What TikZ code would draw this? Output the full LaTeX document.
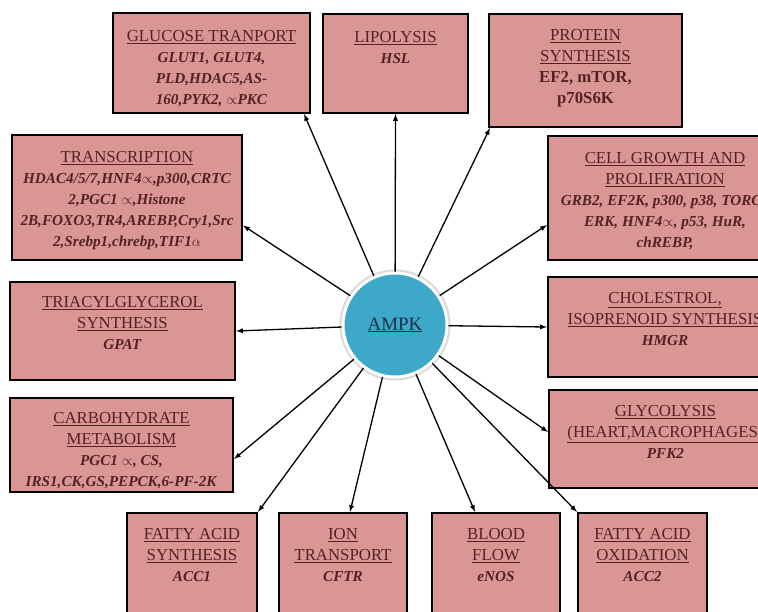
\documentclass[tikz,border=0pt]{standalone}
\usepackage{fontspec}
\setmainfont{Liberation Serif}
\usetikzlibrary{positioning}

\definecolor{boxpink}{RGB}{217,150,149}
\definecolor{ampkblue}{RGB}{62,168,200}
\definecolor{txtred}{RGB}{84,34,36}
\definecolor{ampktxt}{RGB}{28,48,72}

\newcommand{\gen}[1]{{\fontsize{15.2}{21}\selectfont\textbf{\textit{#1}}}}
\newcommand{\ttl}[1]{\underline{#1}}

\begin{document}
\begin{tikzpicture}[x=1pt, y=-1pt, box/.style={draw=black, line width=2.2pt, fill=boxpink, inner sep=0pt}, txt/.style={align=center, text=txtred, font=\fontsize{16.8}{21}\selectfont, inner sep=0pt}, hub/.style={circle, fill=ampkblue, draw=white, line width=3pt, minimum size=104pt, preaction={draw=black!15, line width=7pt}}, n/.style={-latex, line width=1.3pt}]
                \useasboundingbox (0,0) rectangle (758,611);
                \clip (0,0) rectangle (758,611);
                % boxes
                \node[box, minimum width=197pt, minimum height=100pt] (glucose) at (211.5,63) {};
                \node[box, minimum width=145pt, minimum height=99pt] (lipo) at (395.5,63.5) {};
                \node[box, minimum width=193pt, minimum height=113pt] (protein) at (585.5,70.5) {};
                \node[box, minimum width=230pt, minimum height=125pt] (transcr) at (127,197.5) {};
                \node[box, minimum width=234pt, minimum height=124pt] (cellgrowth) at (665,198) {};
                \node[box, minimum width=225pt, minimum height=98pt] (triacyl) at (122.5,331) {};
                \node[box, minimum width=234pt, minimum height=100pt] (cholest) at (665,327) {};
                \node[box, minimum width=223pt, minimum height=94pt] (carbo) at (121.5,445) {};
                \node[box, minimum width=233pt, minimum height=98pt] (glyco) at (665.5,439) {};
                \node[box, minimum width=130pt, minimum height=127pt] (fasynth) at (192,576.5) {};
                \node[box, minimum width=128pt, minimum height=127pt] (ion) at (343,576.5) {};
                \node[box, minimum width=128pt, minimum height=127pt] (blood) at (496,576.5) {};
                \node[box, minimum width=129pt, minimum height=127pt] (faox) at (642.5,576.5) {};
                % texts
                \node[txt, below=18pt of glucose.north] (glucosetxt) {\ttl{GLUCOSE TRANPORT}\\ \gen{GLUT1, GLUT4,}\\ \gen{PLD,HDAC5,AS-}\\ \gen{160,PYK2, $\propto$PKC}};
                \node[txt, below=18pt of lipo.north] (lipotxt) {\ttl{LIPOLYSIS}\\ \gen{HSL}};
                \node[txt, below=16pt of protein.north] (proteintxt) {\ttl{PROTEIN}\\ \ttl{SYNTHESIS}\\ \textbf{EF2, mTOR,}\\ \textbf{p70S6K}};
                \node[txt, below=17pt of transcr.north] (transcrtxt) {\ttl{TRANSCRIPTION}\\ \gen{HDAC4/5/7,HNF4$\propto$,p300,CRTC}\\ \gen{2,PGC1 $\propto$,Histone}\\ \gen{2B,FOXO3,TR4,AREBP,Cry1,Src}\\ \gen{2,Srebp1,chrebp,TIF1$\alpha$}};
                \node[txt, below=17pt of cellgrowth.north] (cellgrowthtxt) {\ttl{CELL GROWTH AND}\\ \ttl{PROLIFRATION}\\ \gen{GRB2, EF2K, p300, p38, TORC2}\\ \gen{ERK, HNF4$\propto$, p53, HuR,}\\ \gen{chREBP,}};
                \node[txt, below=15pt of triacyl.north] (triacyltxt) {\ttl{TRIACYLGLYCEROL}\\ \ttl{SYNTHESIS}\\ \gen{GPAT}};
                \node[txt, below=16pt of cholest.north] (cholesttxt) {\ttl{CHOLESTROL,}\\ \ttl{ISOPRENOID SYNTHESIS}\\ \gen{HMGR}};
                \node[txt, below=15pt of carbo.north] (carbotxt) {\ttl{CARBOHYDRATE}\\ \ttl{METABOLISM}\\ \gen{PGC1 $\propto$, CS,}\\ \gen{IRS1,CK,GS,PEPCK,6-PF-2K}};
                \node[txt, below=16pt of glyco.north] (glycotxt) {\ttl{GLYCOLYSIS}\\ \ttl{(HEART,MACROPHAGES)}\\ \gen{PFK2}};
                \node[txt, below=16pt of fasynth.north] (fasynthtxt) {\ttl{FATTY ACID}\\ \ttl{SYNTHESIS}\\ \gen{ACC1}};
                \node[txt, below=16pt of ion.north] (iontxt) {\ttl{ION}\\ \ttl{TRANSPORT}\\ \gen{CFTR}};
                \node[txt, below=16pt of blood.north] (bloodtxt) {\ttl{BLOOD}\\ \ttl{FLOW}\\ \gen{eNOS}};
                \node[txt, below=16pt of faox.north] (faoxtxt) {\ttl{FATTY ACID}\\ \ttl{OXIDATION}\\ \gen{ACC2}};
                % hub
                \node[hub, text=ampktxt, font=\fontsize{19}{22}\selectfont] (ampk) at (395,325) {\ttl{AMPK}};
                % edges
                \draw[n] (ampk) -- ([xshift=-7pt]glucose.south east);
                \draw[n] (ampk) -- (lipo.south);
                \draw[n] (ampk) -- ([xshift=2pt]protein.south west);
                \draw[n] (ampk) -- ([yshift=-28pt]transcr.east);
                \draw[n] (ampk) -- ([yshift=-27pt]cellgrowth.west);
                \draw[n] (ampk) -- (triacyl.east);
                \draw[n] (ampk) -- (cholest.west);
                \draw[n] (ampk) -- ([yshift=-14pt]carbo.east);
                \draw[n] (ampk) -- ([yshift=7pt]glyco.west);
                \draw[n] (ampk) -- (fasynth.north east);
                \draw[n] (ampk) -- ([xshift=7pt]ion.north);
                \draw[n] (ampk) -- ([xshift=-21pt]blood.north);
                \draw[n] (ampk) -- (faox.north west);
            \end{tikzpicture}
\end{document}
